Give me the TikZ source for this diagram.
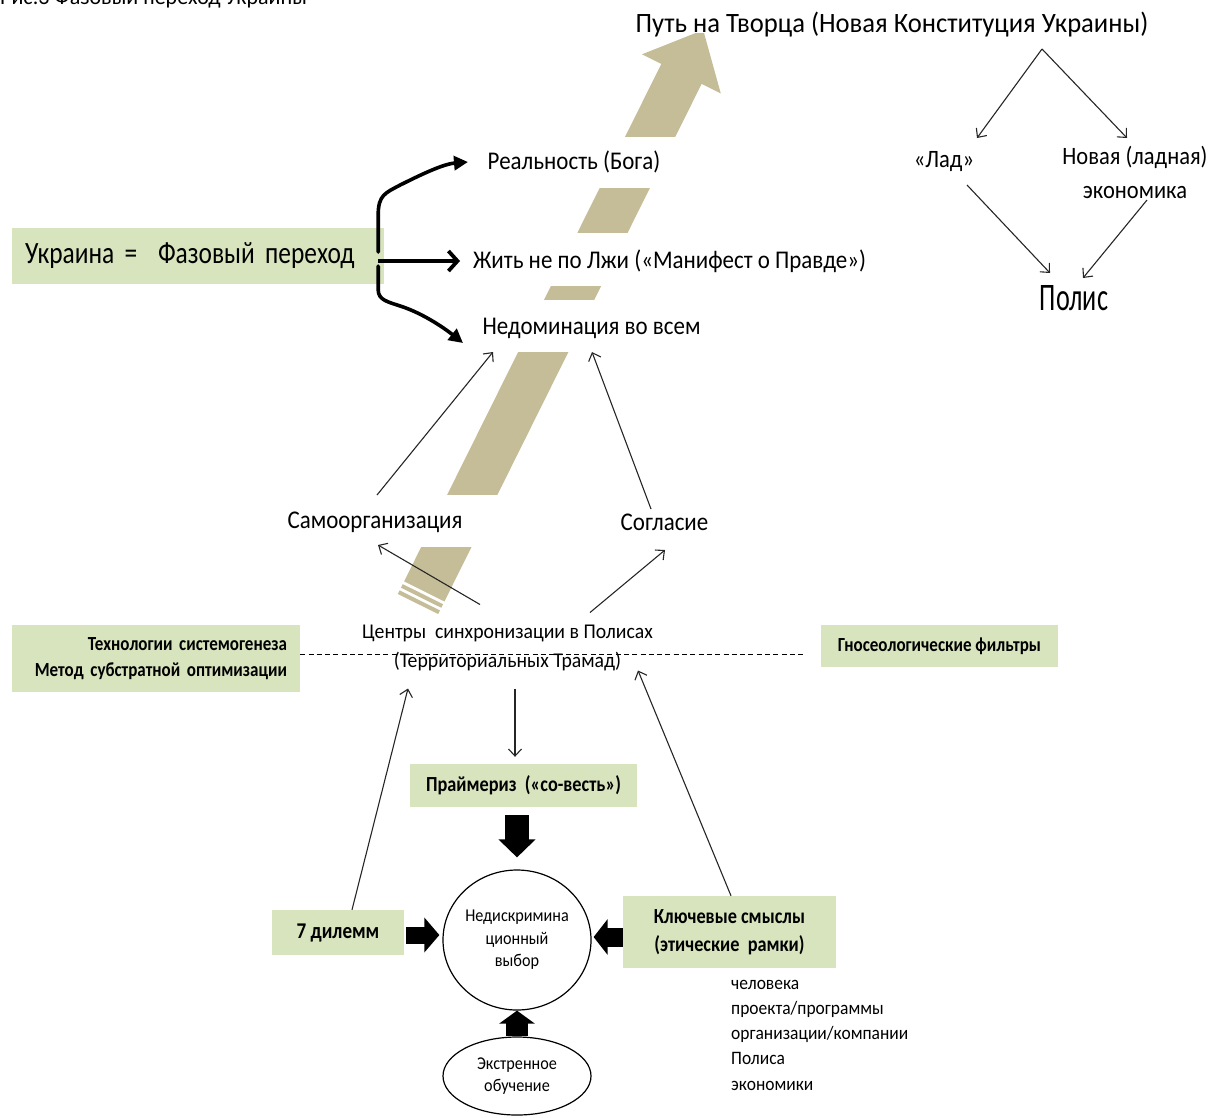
\documentclass[tikz,border=0pt]{standalone}
\usepackage{fontspec}
\setmainfont[FakeStretch=0.9]{Carlito}
\newfontfamily\condb[FakeStretch=0.85]{Carlito}
\newfontfamily\polf[FakeStretch=0.67]{Carlito}
\newfontfamily\ukrf[FakeStretch=0.82]{Carlito}
\newfontfamily\titf[FakeStretch=0.95]{Carlito}
\newfontfamily\cenf[FakeStretch=0.94]{Carlito}
\newfontfamily\lstf[FakeStretch=0.92]{Carlito}
\newfontfamily\capf[FakeStretch=1.0]{Carlito}
\usetikzlibrary{arrows.meta,calc,shapes.geometric}
\definecolor{boxgreen}{HTML}{D7E4BD}
\definecolor{arrowtan}{HTML}{C4BD97}
\newcommand\myfs[2]{\fontsize{#1}{#2}\selectfont}
\tikzset{
  lbl/.style={inner sep=1pt, align=center, text=black},
  mainlbl/.style={lbl, font=\myfs{25.5}{30}},
  gbox/.style={fill=boxgreen, inner sep=0pt, align=center, text=black},
  bfc/.style={font=\condb\bfseries\myfs{#1}{26}},
  listitem/.style={anchor=base west, inner sep=0pt, font=\lstf\myfs{19}{22}},
  thinarr/.style={draw=black!85, line width=1.1pt, -{Straight Barb[length=7pt,width=13pt]}},
  curvearr/.style={line width=3.6pt, line cap=round, -{Triangle[length=14pt,width=14pt]}},
  midarr/.style={line width=3.8pt, -{Straight Barb[length=9pt,width=20pt]}},
  blockarr/.style={line width=#1, draw=black},
  ell/.style={draw=black, ellipse, line width=1.2pt, inner sep=0pt, align=center},
}
\begin{document}
\begin{tikzpicture}[x=1pt,y=-1pt]
\useasboundingbox (0,0) rectangle (1214,1117);
% caption (cut at top, as in the reference)
\node[anchor=base west, inner sep=0pt, font=\capf\myfs{22}{24}] (cap) at (0,4.5) {Рис.3 Фазовый переход Украины};

% big striped tan arrow
\fill[arrowtan] (404.1,581.4) -- (444.4,601.5) -- (701.6,83.9) -- (720.8,93.5) -- (703.2,30.0) -- (642.0,54.3) -- (661.3,63.9) -- cycle;
\fill[arrowtan] (400.97,587.72) -- (441.27,607.74) -- (443.05,604.16) -- (402.75,584.14) -- cycle;
\fill[arrowtan] (397.85,593.99) -- (438.15,614.01) -- (439.93,610.43) -- (399.63,590.41) -- cycle;
% white text-box backgrounds over the arrow
\fill[white] (380,-10) rectangle (760,33);
\fill[white] (380,137) rectangle (760,188);
\fill[white] (380,233) rectangle (760,286);
\fill[white] (380,300) rectangle (760,352);
\fill[white] (380,495) rectangle (760,547);

% text nodes
\node[lbl, font=\titf\myfs{28}{32}] (title) at (892,25) {Путь на Творца (Новая Конституция Украины)};
\node[mainlbl] (real) at (574,162) {Реальность (Бога)};
\node[mainlbl] (zhit) at (669.5,261) {Жить не по Лжи («Манифест о Правде»)};
\node[mainlbl] (nedom) at (591.5,328) {Недоминация во всем};
\node[mainlbl] (samo) at (375,522) {Самоорганизация};
\node[mainlbl] (soglas) at (664.5,522) {Согласие};
\node[lbl, font=\cenf\myfs{21}{29}] (centers) at (507.5,647.5) {Центры\ \ синхронизации в Полисах\\(Территориальных Трамад)};
\node[lbl, font=\myfs{25}{34}] (lad) at (944,162) {«Лад»};
\node[lbl, font=\myfs{25}{34}] (novaya) at (1135,172) {Новая (ладная)\\экономика};
\node[lbl, font=\polf\myfs{39}{40}] (polis) at (1074,298) {Полис};

% green boxes
\node[gbox, minimum width=372pt, minimum height=56pt, text width=346pt, inner xsep=13pt, align=left, font=\ukrf\myfs{31}{34}] (ukr) at (198,256) {Украина =\ \ Фазовый переход};
\node[gbox, minimum width=288pt, minimum height=67pt, text width=262pt, inner xsep=13pt, align=right, bfc=20] (tech) at (156,658.5) {Технологии системогенеза\\Метод субстратной оптимизации};
\node[gbox, minimum width=237pt, minimum height=42pt, bfc=20] (gnos) at (939.5,646) {Гносеологические фильтры};
\node[gbox, minimum width=227pt, minimum height=43pt, bfc=21.5] (primer) at (523.5,785.5) {Праймериз\ \ («со-весть»)};
\node[gbox, minimum width=132pt, minimum height=45pt, bfc=22.5] (dilemm) at (338,932.5) {7 дилемм};
\node[gbox, minimum width=213pt, minimum height=72pt, font=\condb\bfseries\myfs{21.5}{28}] (klyuch) at (729.5,932) {Ключевые смыслы\\(этические\ \ рамки)};

% ellipses
\node[ell, minimum width=148pt, minimum height=140pt, font=\myfs{18}{22.5}] (circ) at (517,940) {Недискримина\\ционный\\выбор};
\node[ell, minimum width=148pt, minimum height=78pt, font=\myfs{18}{22.5}] (ekstr) at (517,1076) {Экстренное\\обучение};

% list
\node[listitem] (li1) at (731,989) {человека};
\node[listitem] (li2) at (731,1014.3) {проекта/программы};
\node[listitem] (li3) at (731,1039.6) {организации/компании};
\node[listitem] (li4) at (731,1064.9) {Полиса};
\node[listitem] (li5) at (731,1090.2) {экономики};

% dashed line
\draw[line width=0.9pt, dash pattern=on 5pt off 3.3pt] ([yshift=4.5pt]tech.east) -- ([xshift=-16pt,yshift=-8pt]gnos.west);

% thick curved arrows from the Ukraine box
\draw[curvearr] ([xshift=-6pt,yshift=4pt]ukr.east) -- ++(0,-37) .. controls +(0,-20) and +(-15,8) .. ++(22,-30) .. controls +(20,-10) and +(-25,2) .. ($(real)+(-106,0)$);
\draw[midarr] ([xshift=-6pt,yshift=-5pt]ukr.east) -- ($(zhit)+(-209.5,0)$);
\draw[curvearr] ([xshift=-6pt,yshift=-10pt]ukr.east) -- ++(0,24) .. controls +(0,10) and +(-12,-4) .. ++(22,16) .. controls +(25,8) and +(-15,-12) .. ($(nedom)+(-128.5,15)$);

% thin arrows
\draw[thinarr] ($(centers)+(7.5,41)$) -- ($(primer.north)+(-8.5,-7)$);
\draw[thinarr] ($(dilemm.north)+(14,0)$) -- ($(centers)+(-99.5,41)$);
\draw[thinarr] ($(klyuch.north)+(1.5,0)$) -- ($(centers)+(130.5,23)$);
\draw[thinarr] ($(centers)+(-27.5,-43)$) -- ($(samo)+(3,23)$);
\draw[thinarr] ($(centers)+(82.5,-35)$) -- ($(soglas)+(0.5,28)$);
\draw[thinarr] ($(samo)+(2,-27)$) -- ($(nedom)+(-98.5,24)$);
\draw[thinarr] ($(soglas)+(-13.5,-13)$) -- ($(nedom)+(0.5,24)$);
\draw[thinarr] ($(title)+(150,24)$) -- ($(lad)+(33,-24)$);
\draw[thinarr] ($(title)+(150,24)$) -- ($(novaya)+(-8,-34)$);
\draw[thinarr] ($(lad)+(23,23)$) -- ($(polis)+(-24,-25)$);
\draw[thinarr] ($(novaya)+(12,28)$) -- ($(polis)+(9,-20)$);

% block arrows
\draw[blockarr=24pt, -{Triangle[length=18pt,width=36pt]}] ([xshift=-6.5pt,yshift=-8pt]primer.south) -- ([yshift=12pt]circ.north);
\draw[blockarr=17pt, -{Triangle[length=15pt,width=34pt]}] ([xshift=2pt,yshift=-2.5pt]dilemm.east) -- ([xshift=-3pt,yshift=5pt]circ.west);
\draw[blockarr=19pt, -{Triangle[length=14pt,width=35pt]}] ([yshift=-5pt]klyuch.west) -- ([xshift=2pt,yshift=3pt]circ.east);
\draw[blockarr=22pt, -{Triangle[length=13pt,width=35pt]}] (ekstr.north) -- (circ.south);
\end{tikzpicture}
\end{document}
